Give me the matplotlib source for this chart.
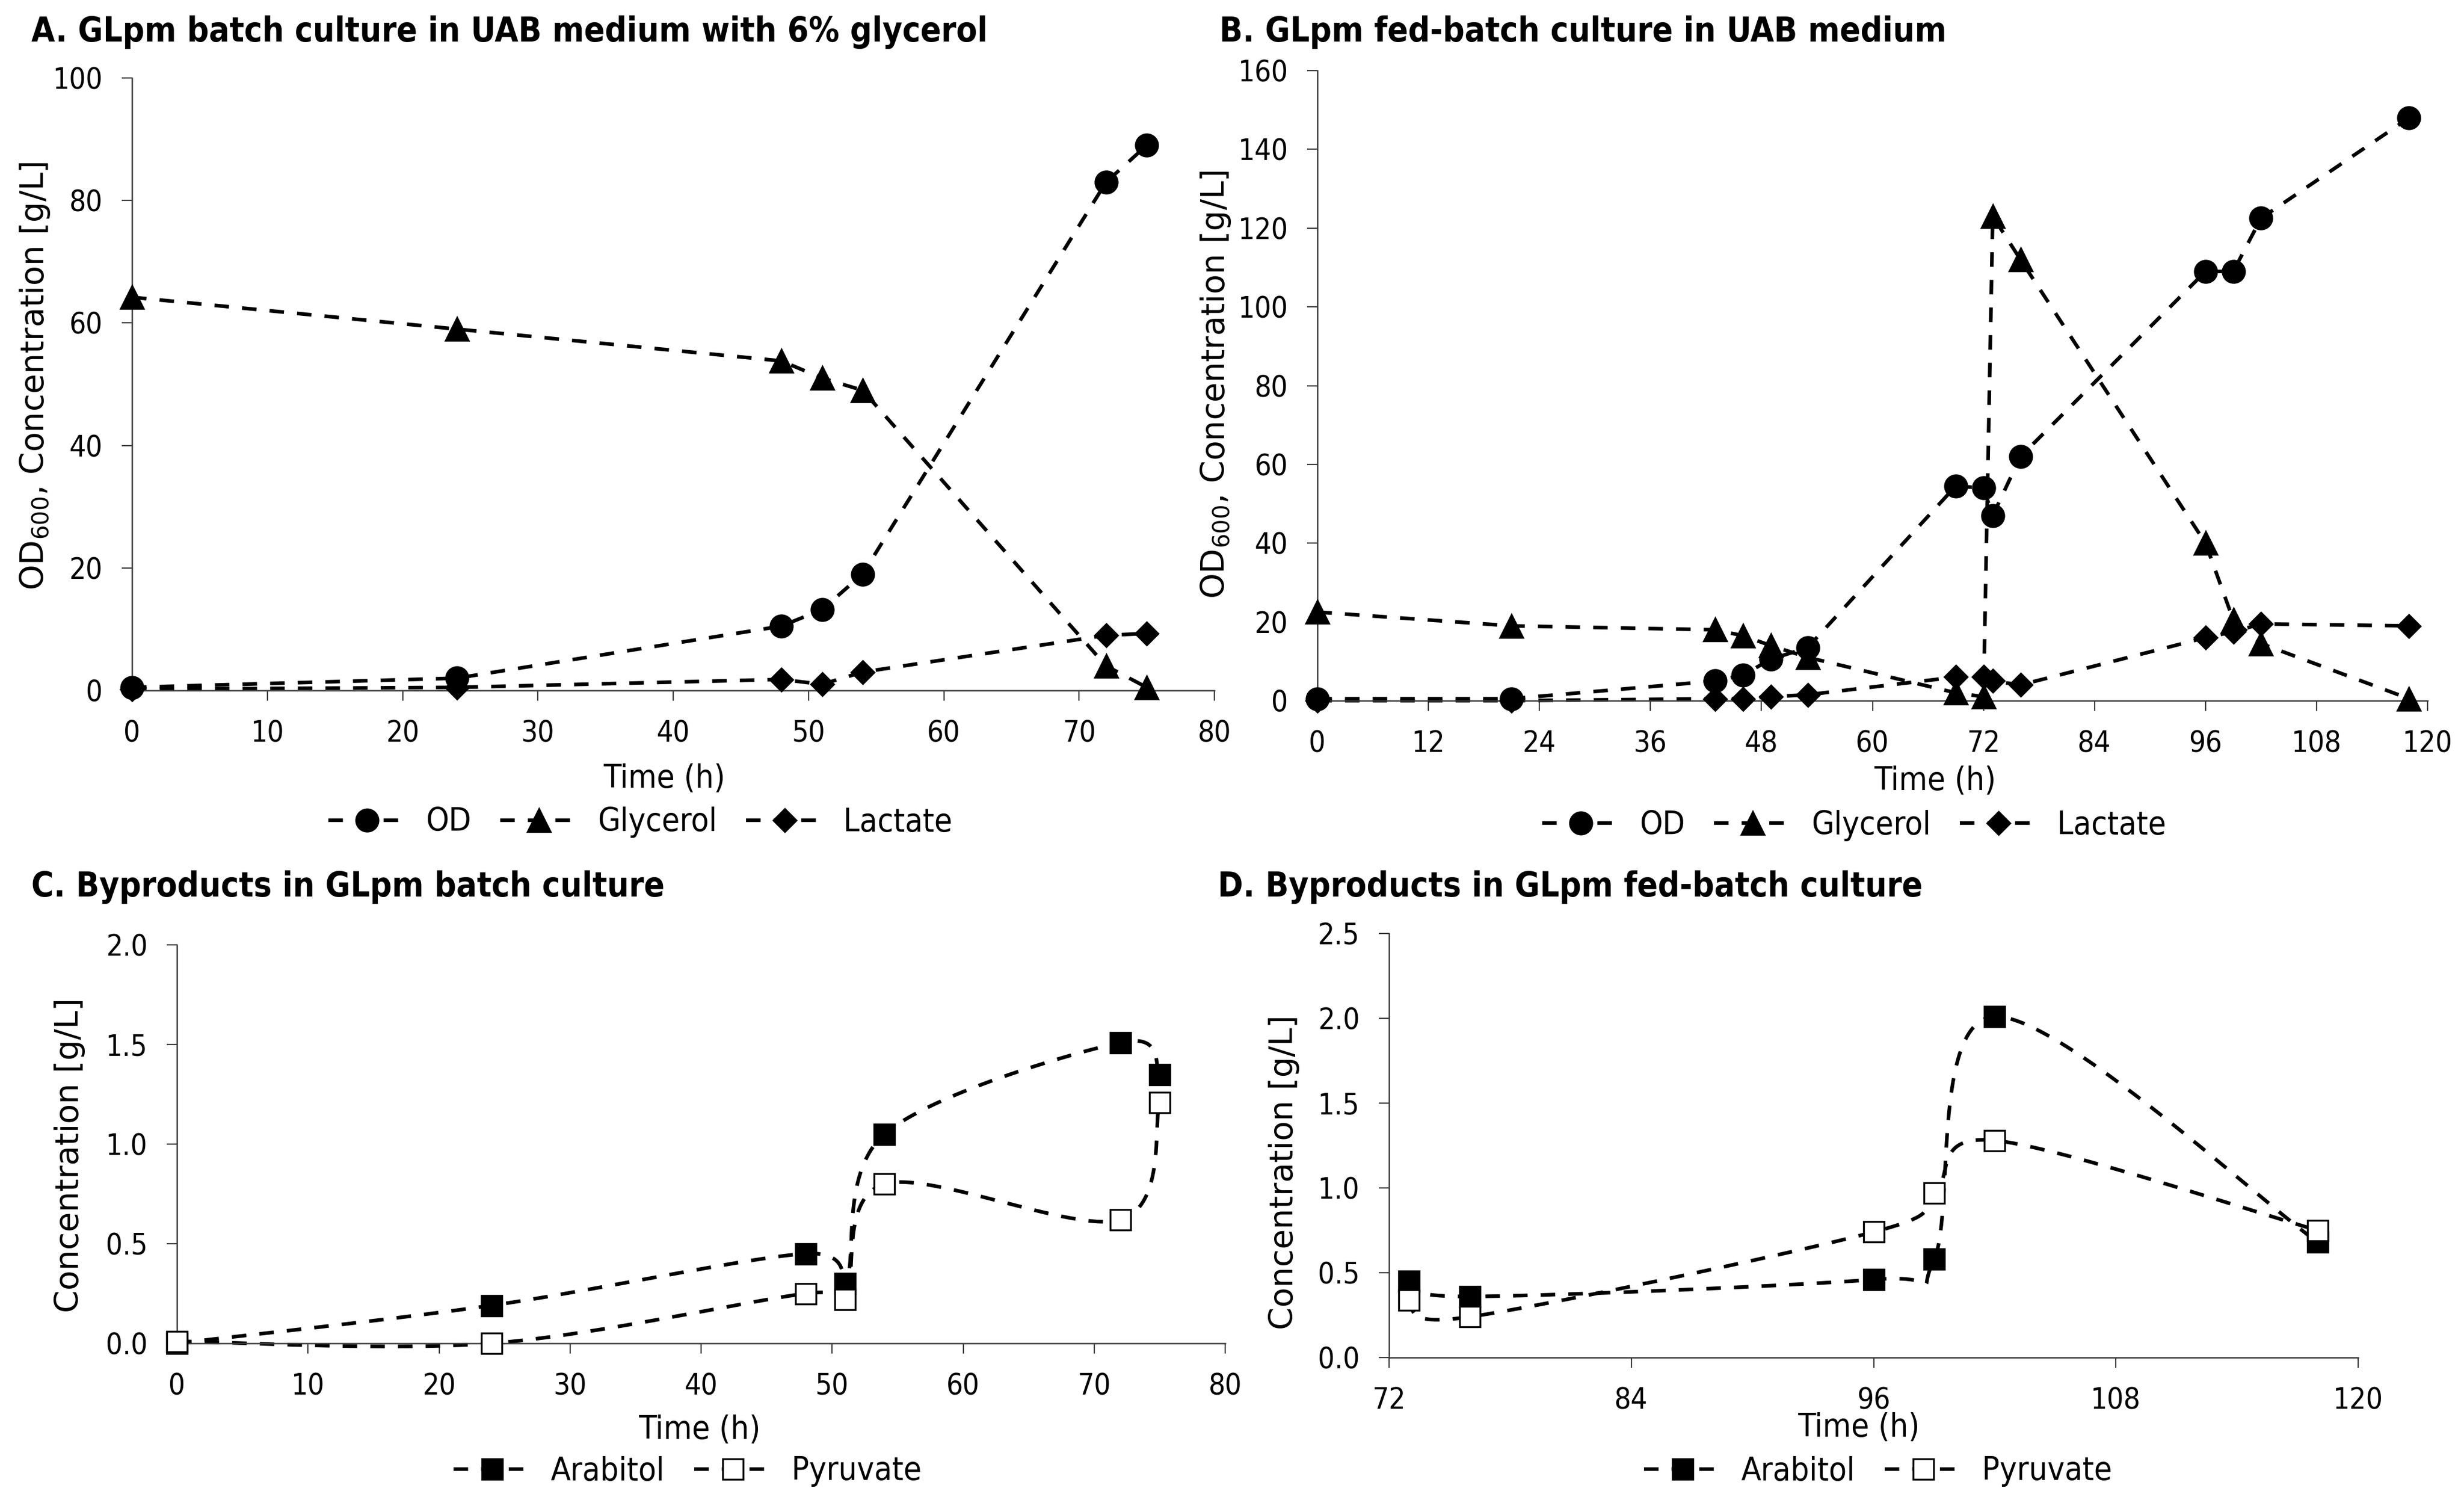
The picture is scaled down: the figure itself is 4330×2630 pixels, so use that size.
import numpy as np
import matplotlib
matplotlib.use("Agg")
import matplotlib.pyplot as plt
from matplotlib.lines import Line2D
from matplotlib.ticker import FormatStrFormatter

# ---------------- data ----------------
# Panel A: batch culture
a_time = [0, 24, 48, 51, 54, 72, 75]
a_od = [0.5, 2.0, 10.5, 13.2, 19.0, 83.0, 89.0]
a_glycerol = [64.2, 59.0, 53.8, 51.0, 49.0, 4.0, 0.5]
a_lactate = [0.2, 0.5, 1.8, 1.0, 3.0, 9.0, 9.3]

# Panel B: fed-batch culture
b_time = [0, 21, 43, 46, 49, 53, 69, 72, 73, 76, 96, 99, 102, 118]
b_od = [0.5, 0.5, 5.0, 6.5, 10.5, 13.5, 54.5, 54.0, 47.0, 62.0, 109.0, 109.0, 122.5, 148.0]
b_glycerol = [22.5, 19.0, 18.0, 16.5, 14.0, 11.0, 2.0, 1.0, 123.0, 112.0, 40.0, 20.5, 14.5, 0.5]
b_lactate = [0.0, 0.0, 0.5, 0.5, 1.0, 1.5, 6.0, 6.0, 5.0, 4.0, 16.0, 17.5, 19.5, 19.0]

# Panel C: byproducts, batch
c_time = [0, 24, 48, 51, 54, 72, 75]
c_arabitol = [0.0, 0.19, 0.45, 0.30, 1.05, 1.51, 1.35]
c_pyruvate = [0.01, 0.0, 0.25, 0.22, 0.80, 0.62, 1.21]

# Panel D: byproducts, fed-batch
d_time = [73, 76, 96, 99, 102, 118]
d_arabitol = [0.45, 0.36, 0.46, 0.58, 2.01, 0.68]
d_pyruvate = [0.34, 0.24, 0.74, 0.97, 1.28, 0.75]

titles = ["A. GLpm batch culture in UAB medium with 6% glycerol",
          "B. GLpm fed-batch culture in UAB medium",
          "C. Byproducts in GLpm batch culture",
          "D. Byproducts in GLpm fed-batch culture"]
ylab_main = "OD$_{600}$, Concentration [g/L]"
ylab_conc = "Concentration [g/L]"
xlab = "Time (h)"

# ---------------- style ----------------
W, H = 4330, 2630
fig = plt.figure(figsize=(W / 100, H / 100), dpi=100)
fig.patch.set_facecolor("white")

COND = dict(family="DejaVu Sans", stretch="condensed")
TICK_FS = 37
LAB_FS = 41
LEG_FS = 41
TITLE_FS = 43
LW = 4.6
DASH = (4.0, 3.6)
SPINE_C = "#3a3a3a"


def fx(px):
    return px / W


def fy(py):
    return 1 - py / H


def make_ax(left, top, right, bottom):
    ax = fig.add_axes([fx(left), fy(bottom), fx(right - left), (bottom - top) / H])
    for s in ("top", "right"):
        ax.spines[s].set_visible(False)
    for s in ("left", "bottom"):
        ax.spines[s].set_linewidth(1.8)
        ax.spines[s].set_color(SPINE_C)
    ax.tick_params(axis="both", direction="out", length=13, width=1.6,
                   color=SPINE_C, labelsize=TICK_FS, pad=24)
    return ax


def style_ticklabels(ax):
    for lbl in ax.get_xticklabels() + ax.get_yticklabels():
        lbl.set_fontfamily("DejaVu Sans")
        lbl.set_fontstretch("condensed")


def smooth(ax, x, y, n=60):
    """Excel-like smoothed curve (Catmull-Rom Bezier) computed in axes space."""
    x0, x1 = ax.get_xlim()
    y0, y1 = ax.get_ylim()
    bb = ax.get_position()
    sx = bb.width * W / (x1 - x0)
    sy = bb.height * H / (y1 - y0)
    P = np.column_stack([(np.asarray(x) - x0) * sx, (np.asarray(y) - y0) * sy])
    Pp = np.vstack([P[0], P, P[-1]])
    out = []
    t = np.linspace(0, 1, n)[:, None]
    for i in range(len(P) - 1):
        p0, p1, p2, p3 = Pp[i], Pp[i + 1], Pp[i + 2], Pp[i + 3]
        c1 = p1 + (p2 - p0) / 6.0
        c2 = p2 - (p3 - p1) / 6.0
        seg = ((1 - t) ** 3) * p1 + 3 * ((1 - t) ** 2) * t * c1 + 3 * (1 - t) * t ** 2 * c2 + t ** 3 * p2
        out.append(seg if i == 0 else seg[1:])
    out = np.vstack(out)
    return out[:, 0] / sx + x0, out[:, 1] / sy + y0


def series(ax, x, y, marker, ms, mfc="black", smooth_line=False, label=None):
    if smooth_line:
        xs, ys = smooth(ax, x, y)
    else:
        xs, ys = x, y
    ax.plot(xs, ys, color="black", lw=LW, dashes=DASH, zorder=2, clip_on=False)
    ax.plot(x, y, ls="none", marker=marker, ms=ms, mfc=mfc, mec="black",
            mew=2.4, zorder=3, clip_on=False)
    return Line2D([], [], color="black", lw=LW, dashes=DASH, marker=marker,
                  ms=ms, mfc=mfc, mec="black", mew=2.4, label=label)


def legend(handles, cx, cy):
    fig.legend(handles=handles, loc="center", bbox_to_anchor=(fx(cx), fy(cy)),
               bbox_transform=fig.transFigure, ncol=len(handles), frameon=False,
               numpoints=1, handlelength=2.4, handletextpad=0.6, columnspacing=0.9,
               prop=dict(size=LEG_FS, **COND))


def ftext(px, py, s, **kw):
    fig.text(fx(px), fy(py), s, **kw)


MS_O, MS_T, MS_D, MS_S = 28, 29, 20, 26

# ---------------- Panel A ----------------
axA = make_ax(232, 137, 2134, 1213)
axA.set_xlim(0, 80)
axA.set_ylim(0, 100)
axA.set_xticks(np.arange(0, 81, 10))
axA.set_yticks(np.arange(0, 101, 20))
hA = [series(axA, a_time, a_od, "o", MS_O, label="OD"),
      series(axA, a_time, a_glycerol, "^", MS_T, label="Glycerol"),
      series(axA, a_time, a_lactate, "D", MS_D, label="Lactate")]
style_ticklabels(axA)
legend(hA, 1125, 1445)

# ---------------- Panel B ----------------
axB = make_ax(2315, 124, 4266, 1231)
axB.set_xlim(0, 120)
axB.set_ylim(0, 160)
axB.set_xticks(np.arange(0, 121, 12))
axB.set_yticks(np.arange(0, 161, 20))
hB = [series(axB, b_time, b_od, "o", MS_O, label="OD"),
      series(axB, b_time, b_glycerol, "^", MS_T, label="Glycerol"),
      series(axB, b_time, b_lactate, "D", MS_D, label="Lactate")]
style_ticklabels(axB)
legend(hB, 3258, 1450)

# ---------------- Panel C ----------------
axC = make_ax(311, 1660, 2153, 2360)
axC.set_xlim(0, 80)
axC.set_ylim(0, 2.0)
axC.set_xticks(np.arange(0, 81, 10))
axC.set_yticks(np.arange(0, 2.01, 0.5))
axC.yaxis.set_major_formatter(FormatStrFormatter("%.1f"))
hC = [series(axC, c_time, c_arabitol, "s", MS_S, smooth_line=True, label="Arabitol"),
      series(axC, c_time, c_pyruvate, "s", MS_S, mfc="white", smooth_line=True, label="Pyruvate")]
style_ticklabels(axC)
legend(hC, 1208, 2585)

# ---------------- Panel D ----------------
axD = make_ax(2441, 1640, 4144, 2385)
axD.set_xlim(72, 120)
axD.set_ylim(0, 2.5)
axD.set_xticks(np.arange(72, 121, 12))
axD.set_yticks(np.arange(0, 2.51, 0.5))
axD.yaxis.set_major_formatter(FormatStrFormatter("%.1f"))
hD = [series(axD, d_time, d_arabitol, "s", MS_S, smooth_line=True, label="Arabitol"),
      series(axD, d_time, d_pyruvate, "s", MS_S, mfc="white", smooth_line=True, label="Pyruvate")]
style_ticklabels(axD)
legend(hD, 3300, 2585)

# ---------------- texts ----------------
for (px, py), t in zip([(55, 57), (2143, 57), (55, 1558), (2140, 1558)], titles):
    ftext(px, py, t, fontsize=TITLE_FS, fontweight="bold", ha="left", va="center", **COND)

ftext(62, 660, ylab_main, fontsize=LAB_FS, rotation=90, ha="center", va="center", family="DejaVu Sans")
ftext(2136, 675, ylab_main, fontsize=LAB_FS, rotation=90, ha="center", va="center", family="DejaVu Sans")
ftext(122, 2030, ylab_conc, fontsize=LAB_FS, rotation=90, ha="center", va="center", family="DejaVu Sans")
ftext(2256, 2060, ylab_conc, fontsize=LAB_FS, rotation=90, ha="center", va="center", family="DejaVu Sans")

ftext(1167, 1368, xlab, fontsize=LAB_FS, ha="center", va="center", **COND)
ftext(3400, 1373, xlab, fontsize=LAB_FS, ha="center", va="center", **COND)
ftext(1229, 2513, xlab, fontsize=LAB_FS, ha="center", va="center", **COND)
ftext(3266, 2509, xlab, fontsize=LAB_FS, ha="center", va="center", **COND)

fig.savefig("out.png", dpi=100, facecolor="white")
